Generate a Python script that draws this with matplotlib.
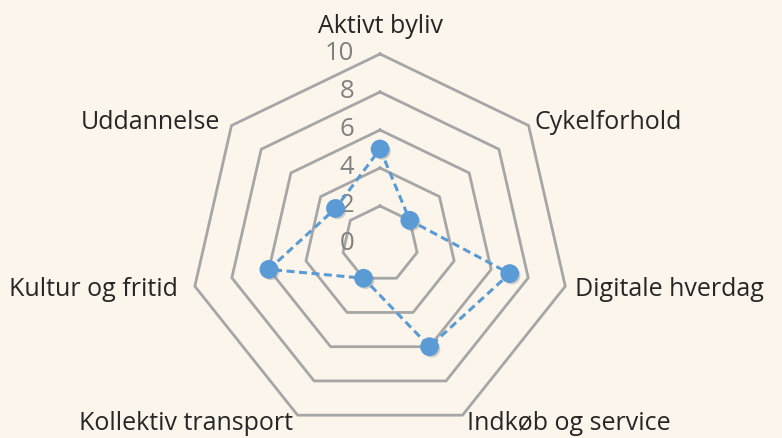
import numpy as np
import matplotlib
matplotlib.use("Agg")
import matplotlib.pyplot as plt
import matplotlib.patheffects as pe

categories = ["Aktivt byliv", "Cykelforhold", "Digitale hverdag", "Indkøb og service",
              "Kollektiv transport", "Kultur og fritid", "Uddannelse"]
values = [5, 2, 7, 6, 2, 6, 3]
ring_levels = [2, 4, 6, 8, 10]
tick_labels = ["0", "2", "4", "6", "8", "10"]
tick_values = [0, 2, 4, 6, 8, 10]

# label placement (offset pixels, alignment)
label_style = [
    ((0, 15), "center", "bottom"),
    ((6, -3), "left", "baseline"),
    ((10, -10), "left", "baseline"),
    ((5, -15), "left", "baseline"),
    ((-5, -15), "right", "baseline"),
    ((-17, -10), "right", "baseline"),
    ((-11, -3), "right", "baseline"),
]

BG = "#FBF5EB"
BLUE = "#5B9BD5"
GRID = "#A6A6A6"

plt.rcParams["font.family"] = ["Open Sans", "DejaVu Sans"]

fig = plt.figure(figsize=(7.82, 4.38), dpi=100)
fig.patch.set_facecolor(BG)
ax = fig.add_axes([0.243, 0.00913, 0.486, 0.8676], projection="polar")
ax.set_facecolor("none")
ax.set_theta_offset(np.pi / 2)
ax.set_theta_direction(-1)
ax.set_ylim(0, 10)
ax.grid(False)
ax.spines["polar"].set_visible(False)
ax.set_xticks([])
ax.set_yticks([])

n = len(categories)
angles = np.arange(n) * 2 * np.pi / n
closed = np.append(angles, angles[0])

for r in ring_levels:
    ax.plot(closed, [r] * (n + 1), color=GRID, lw=2.0, clip_on=False, zorder=1)

for v, t in zip(tick_values, tick_labels):
    ax.annotate(t, xy=(0, v), xytext=(-26, 0), textcoords="offset pixels",
                ha="right", va="center", fontsize=18.5, color="#808080",
                annotation_clip=False, zorder=2)

vals_closed = values + [values[0]]
ax.plot(closed, vals_closed, color=BLUE, lw=2.2, linestyle=(0, (2.6, 1.5)),
        clip_on=False, zorder=3)
ax.plot(angles, values, linestyle="none", marker="o", markersize=12.5,
        markerfacecolor=BLUE, markeredgecolor=BLUE, clip_on=False, zorder=4,
        path_effects=[pe.SimplePatchShadow(offset=(1.5, -1.5), shadow_rgbFace="gray", alpha=0.35),
                      pe.Normal()])

for ang, cat, (off, ha, va) in zip(angles, categories, label_style):
    ax.annotate(cat, xy=(ang, 10), xytext=off, textcoords="offset pixels",
                ha=ha, va=va, fontsize=18, color="#262626", annotation_clip=False)

fig.savefig("out.png", dpi=100, facecolor=BG)
